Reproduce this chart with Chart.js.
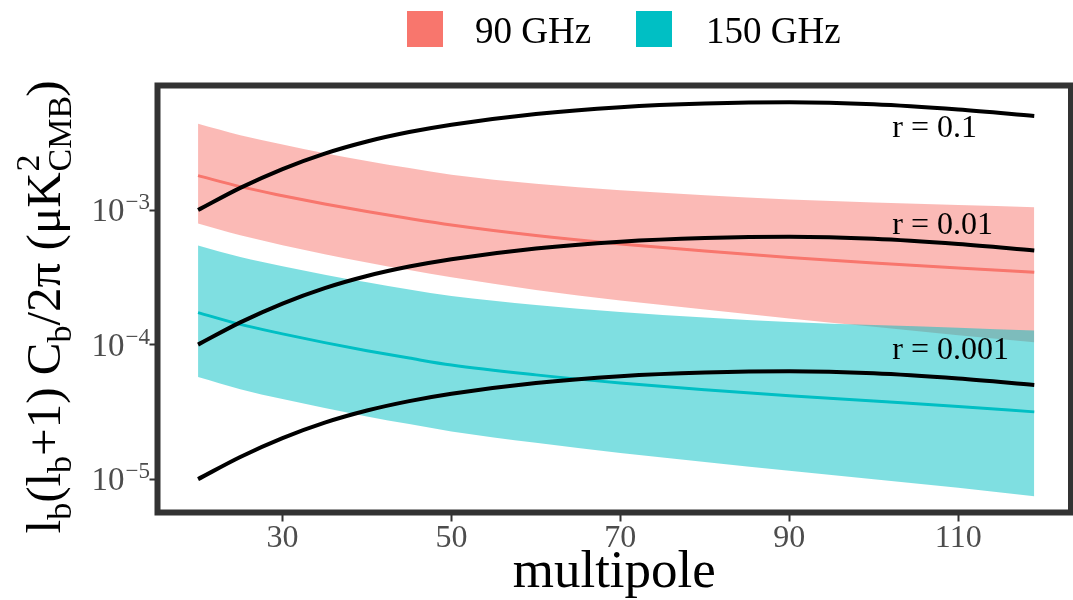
<!DOCTYPE html>
<html><head><meta charset="utf-8">
<script src="https://cdn.jsdelivr.net/npm/chart.js@4.4.1/dist/chart.umd.min.js"></script>
<style>html,body{margin:0;padding:0;background:#fff;}canvas{display:block;}</style>
</head><body>
<canvas id="c" width="1073" height="600"></canvas>
<script>
// ---- data ----
const multipoles = [20, 25, 30, 35, 40, 45, 50, 60, 70, 80, 90, 100, 110, 119];

const ghz90Mid   = [1.803e-3, 1.493e-3, 1.279e-3, 1.109e-3, 9.75e-4, 8.65e-4, 7.745e-4, 6.471e-4, 5.598e-4, 4.966e-4, 4.446e-4, 4.046e-4, 3.715e-4, 3.443e-4];
const ghz90Upper = [4.375e-3, 3.597e-3, 3.069e-3, 2.649e-3, 2.317e-3, 2.051e-3, 1.832e-3, 1.570e-3, 1.406e-3, 1.291e-3, 1.197e-3, 1.140e-3, 1.089e-3, 1.050e-3];
const ghz90Lower = [7.943e-4, 6.486e-4, 5.483e-4, 4.699e-4, 4.083e-4, 3.581e-4, 3.162e-4, 2.547e-4, 2.128e-4, 1.824e-4, 1.560e-4, 1.355e-4, 1.175e-4, 1.040e-4];

const ghz150Mid   = [1.730e-4, 1.413e-4, 1.202e-4, 1.035e-4, 9.016e-5, 7.943e-5, 7.047e-5, 5.957e-5, 5.188e-5, 4.624e-5, 4.169e-5, 3.802e-5, 3.467e-5, 3.162e-5];
const ghz150Upper = [5.458e-4, 4.477e-4, 3.828e-4, 3.311e-4, 2.904e-4, 2.570e-4, 2.296e-4, 1.972e-4, 1.750e-4, 1.592e-4, 1.472e-4, 1.396e-4, 1.334e-4, 1.271e-4];
const ghz150Lower = [5.741e-5, 4.667e-5, 3.936e-5, 3.373e-5, 2.924e-5, 2.564e-5, 2.259e-5, 1.862e-5, 1.567e-5, 1.343e-5, 1.156e-5, 1.000e-5, 8.63e-6, 7.45e-6];

const bbR01   = [1.000e-3, 1.462e-3, 2.018e-3, 2.630e-3, 3.236e-3, 3.802e-3, 4.315e-3, 5.188e-3, 5.821e-3, 6.194e-3, 6.339e-3, 6.124e-3, 5.598e-3, 5.012e-3];
const bbR001  = [1.000e-4, 1.462e-4, 2.018e-4, 2.630e-4, 3.236e-4, 3.802e-4, 4.315e-4, 5.188e-4, 5.821e-4, 6.194e-4, 6.339e-4, 6.124e-4, 5.598e-4, 5.012e-4];
const bbR0001 = [1.000e-5, 1.462e-5, 2.018e-5, 2.630e-5, 3.236e-5, 3.802e-5, 4.315e-5, 5.188e-5, 5.821e-5, 6.194e-5, 6.339e-5, 6.124e-5, 5.598e-5, 5.012e-5];

const xTickValues = [30, 50, 70, 90, 110];
const yTickValues = [1e-5, 1e-4, 1e-3];
const yTickExponents = ['\u22125', '\u22124', '\u22123'];
const legendLabels = ['90 GHz', '150 GHz'];
const legendColors = ['#F8766D', '#00BFC4'];
const rLabels = ['r = 0.1', 'r = 0.01', 'r = 0.001'];
const rLabelX = [102.2, 102.2, 102.2];
const rLabelY = [4.02e-3, 7.68e-4, 8.95e-5];
const xTitle = 'multipole';

// ---- helpers ----
const SERIF = '"Liberation Serif", "Times New Roman", serif';
const pts = arr => multipoles.map((x, i) => ({x: x, y: arr[i]}));
const band = (arr, fillIdx, color, order) => ({
  data: pts(arr), borderWidth: 0, pointRadius: 0, borderColor: 'transparent',
  backgroundColor: color, fill: fillIdx, order: order, cubicInterpolationMode: 'monotone'
});
const line = (arr, color, w, order) => ({
  data: pts(arr), borderWidth: w, pointRadius: 0, borderColor: color,
  fill: false, order: order, cubicInterpolationMode: 'monotone'
});

const datasets = [
  band(ghz90Upper, 1, 'rgba(248,118,109,0.5)', 10),
  band(ghz90Lower, false, 'rgba(248,118,109,0.5)', 10),
  band(ghz150Upper, 3, 'rgba(0,191,196,0.5)', 9),
  band(ghz150Lower, false, 'rgba(0,191,196,0.5)', 9),
  line(ghz90Mid, '#F8766D', 3, 5),
  line(ghz150Mid, '#00BFC4', 3, 5),
  line(bbR01, '#000000', 4, 1),
  line(bbR001, '#000000', 4, 1),
  line(bbR0001, '#000000', 4, 1)
];

const decor = {
  id: 'decor',
  afterDraw(chart) {
    const ctx = chart.ctx, a = chart.chartArea;
    const xs = chart.scales.x, ys = chart.scales.y;
    ctx.save();
    // panel border
    ctx.strokeStyle = '#333333';
    ctx.lineWidth = 6;
    ctx.strokeRect(a.left, a.top, a.right - a.left, a.bottom - a.top);

    // y tick labels 10^-n
    ctx.fillStyle = '#4D4D4D';
    ctx.textBaseline = 'alphabetic';
    yTickValues.forEach((v, i) => {
      const py = ys.getPixelForValue(v);
      ctx.font = '23px ' + SERIF;
      const ew = ctx.measureText(yTickExponents[i]).width;
      const right = 150;
      ctx.textAlign = 'left';
      ctx.fillText(yTickExponents[i], right - ew, py - 1);
      ctx.font = '33px ' + SERIF;
      ctx.textAlign = 'right';
      ctx.fillText('10', right - ew - 1, py + 11);
    });

    // r labels
    ctx.fillStyle = '#000';
    ctx.font = '32px ' + SERIF;
    ctx.textAlign = 'left';
    ctx.textBaseline = 'middle';
    rLabels.forEach((t, i) => {
      ctx.fillText(t, xs.getPixelForValue(rLabelX[i]), ys.getPixelForValue(rLabelY[i]));
    });

    // legend
    const keyX = [407, 636], txtX = [475, 706];
    legendLabels.forEach((t, i) => {
      ctx.fillStyle = legendColors[i];
      ctx.fillRect(keyX[i], 11, 36, 36);
      ctx.fillStyle = '#000';
      ctx.font = '37px ' + SERIF;
      ctx.textAlign = 'left';
      ctx.textBaseline = 'alphabetic';
      ctx.fillText(t, txtX[i], 43);
    });

    // y axis title with sub/superscripts
    const size = 49, small = Math.round(size * 0.7);
    const F = size + 'px ' + SERIF, S = small + 'px ' + SERIF;
    const segs = [
      {t: 'l'}, {t: 'b', sub: true}, {t: '(l'}, {t: 'b', sub: true}, {t: '+1) C'}, {t: 'b', sub: true},
      {t: '/2\u03C0 (\u03BCK'}, {sup: '2', subt: 'CMB'}, {t: ')'}
    ];
    let total = 0;
    segs.forEach(s => {
      if (s.sup !== undefined) {
        ctx.font = S;
        s.w = Math.max(ctx.measureText(s.sup).width, ctx.measureText(s.subt).width);
      } else {
        ctx.font = s.sub ? S : F;
        s.w = ctx.measureText(s.t).width;
      }
      total += s.w;
    });
    const cy = (a.top + a.bottom) / 2 + 8;
    ctx.translate(60, cy);
    ctx.rotate(-Math.PI / 2);
    ctx.fillStyle = '#000';
    ctx.textAlign = 'left';
    ctx.textBaseline = 'alphabetic';
    let x = -total / 2;
    segs.forEach(s => {
      if (s.sup !== undefined) {
        ctx.font = S;
        ctx.fillText(s.sup, x + 1, -size * 0.42);
        ctx.fillText(s.subt, x + 1, size * 0.22);
      } else if (s.sub) {
        ctx.font = S;
        ctx.fillText(s.t, x, size * 0.22);
      } else {
        ctx.font = F;
        ctx.fillText(s.t, x, 0);
      }
      x += s.w;
    });
    ctx.restore();
  }
};

new Chart(document.getElementById('c'), {
  type: 'line',
  data: {datasets: datasets},
  options: {
    responsive: false,
    animation: false,
    devicePixelRatio: 1,
    layout: {padding: {top: 85.5, right: 2, left: 0, bottom: 0}},
    plugins: {legend: {display: false}, tooltip: {enabled: false}},
    scales: {
      x: {
        type: 'linear', min: 15.2, max: 123.35, bounds: 'data',
        afterBuildTicks: s => { s.ticks = xTickValues.map(v => ({value: v})); },
        afterFit: s => { s.height = 87.5; },
        grid: {display: true, drawOnChartArea: false, drawTicks: true, tickLength: 9, tickColor: '#333333', tickWidth: 2},
        border: {display: false},
        ticks: {autoSkip: false, maxRotation: 0, padding: 1, color: '#4D4D4D',
                font: {family: SERIF, size: 32, lineHeight: 1}},
        title: {display: true, text: xTitle, color: '#000', font: {family: SERIF, size: 53, lineHeight: 1}, padding: {top: 0, bottom: 0}}
      },
      y: {
        type: 'logarithmic', min: Math.pow(10, -5.248), max: Math.pow(10, -2.074), bounds: 'data',
        afterBuildTicks: s => { s.ticks = yTickValues.map(v => ({value: v})); },
        afterFit: s => { s.width = 157.5; },
        grid: {display: true, drawOnChartArea: false, drawTicks: true, tickLength: 8, tickColor: '#333333', tickWidth: 2},
        border: {display: false},
        ticks: {display: false, autoSkip: false}
      }
    }
  },
  plugins: [decor]
});
</script>
</body></html>
